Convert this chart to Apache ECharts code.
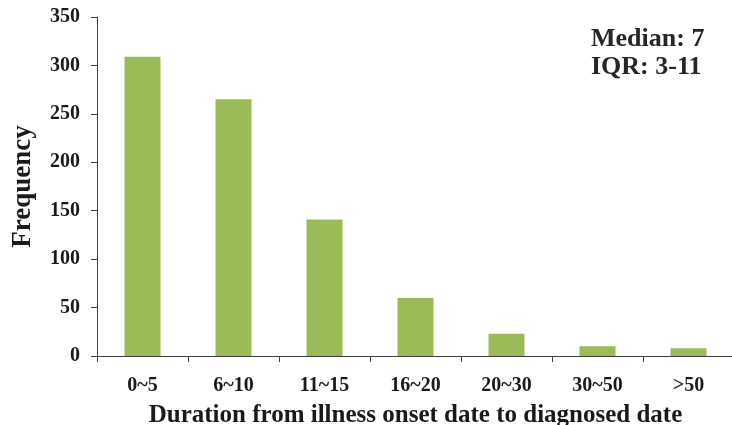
<!DOCTYPE html>
<html><head><meta charset="utf-8">
<script src="https://cdn.jsdelivr.net/npm/echarts@6/dist/echarts.min.js"></script>
<style>html,body{margin:0;padding:0;background:#fff}#c{width:732px;height:425px}</style>
</head><body><div id="c"></div>
<script>
const categories = ['0~5','6~10','11~15','16~20','20~30','30~50','>50'];
const frequency = [309, 265, 141, 60, 23, 10, 8];
const yTicks = {min: 0, max: 350, interval: 50};
const xTitle = 'Duration from illness onset date to diagnosed date';
const yTitle = 'Frequency';
const notes = ['Median: 7', 'IQR: 3-11'];

const FONT = '"Liberation Serif", "Times New Roman", serif';
const chart = echarts.init(document.getElementById('c'));
chart.setOption({
  animation: false,
  grid: {left: 97, right: -2, top: 17, bottom: 69, containLabel: false, outerBoundsMode: 'none'},
  xAxis: {
    type: 'category', data: categories,
    axisLine: {lineStyle: {color: '#404040', width: 1}},
    axisTick: {show: true, length: 6, alignWithLabel: false, lineStyle: {color: '#404040'}},
    axisLabel: {color: '#1a1a1a', fontFamily: FONT, fontWeight: 'bold', fontSize: 20, margin: 20, interval: 0},
    name: xTitle, nameLocation: 'middle', nameGap: 47,
    nameTextStyle: {color: '#1a1a1a', fontFamily: FONT, fontWeight: 'bold', fontSize: 25}
  },
  yAxis: {
    type: 'value', min: yTicks.min, max: yTicks.max, interval: yTicks.interval,
    splitLine: {show: false},
    axisLine: {show: true, lineStyle: {color: '#404040', width: 1}},
    axisTick: {show: true, length: 6, lineStyle: {color: '#404040'}},
    axisLabel: {color: '#1a1a1a', fontFamily: FONT, fontWeight: 'bold', fontSize: 20, margin: 17},
    name: yTitle, nameLocation: 'middle', nameGap: 60, nameRotate: 90,
    nameTextStyle: {color: '#1a1a1a', fontFamily: FONT, fontWeight: 'bold', fontSize: 27}
  },
  series: [{
    type: 'bar', data: frequency, barWidth: 36,
    itemStyle: {color: '#9BBB59'}
  }],
  graphic: notes.map((t, i) => ({
    type: 'text', left: 591, top: 26 + i * 28,
    style: {text: t, font: 'bold 26px ' + FONT, fill: '#262626'}
  }))
});
</script></body></html>
